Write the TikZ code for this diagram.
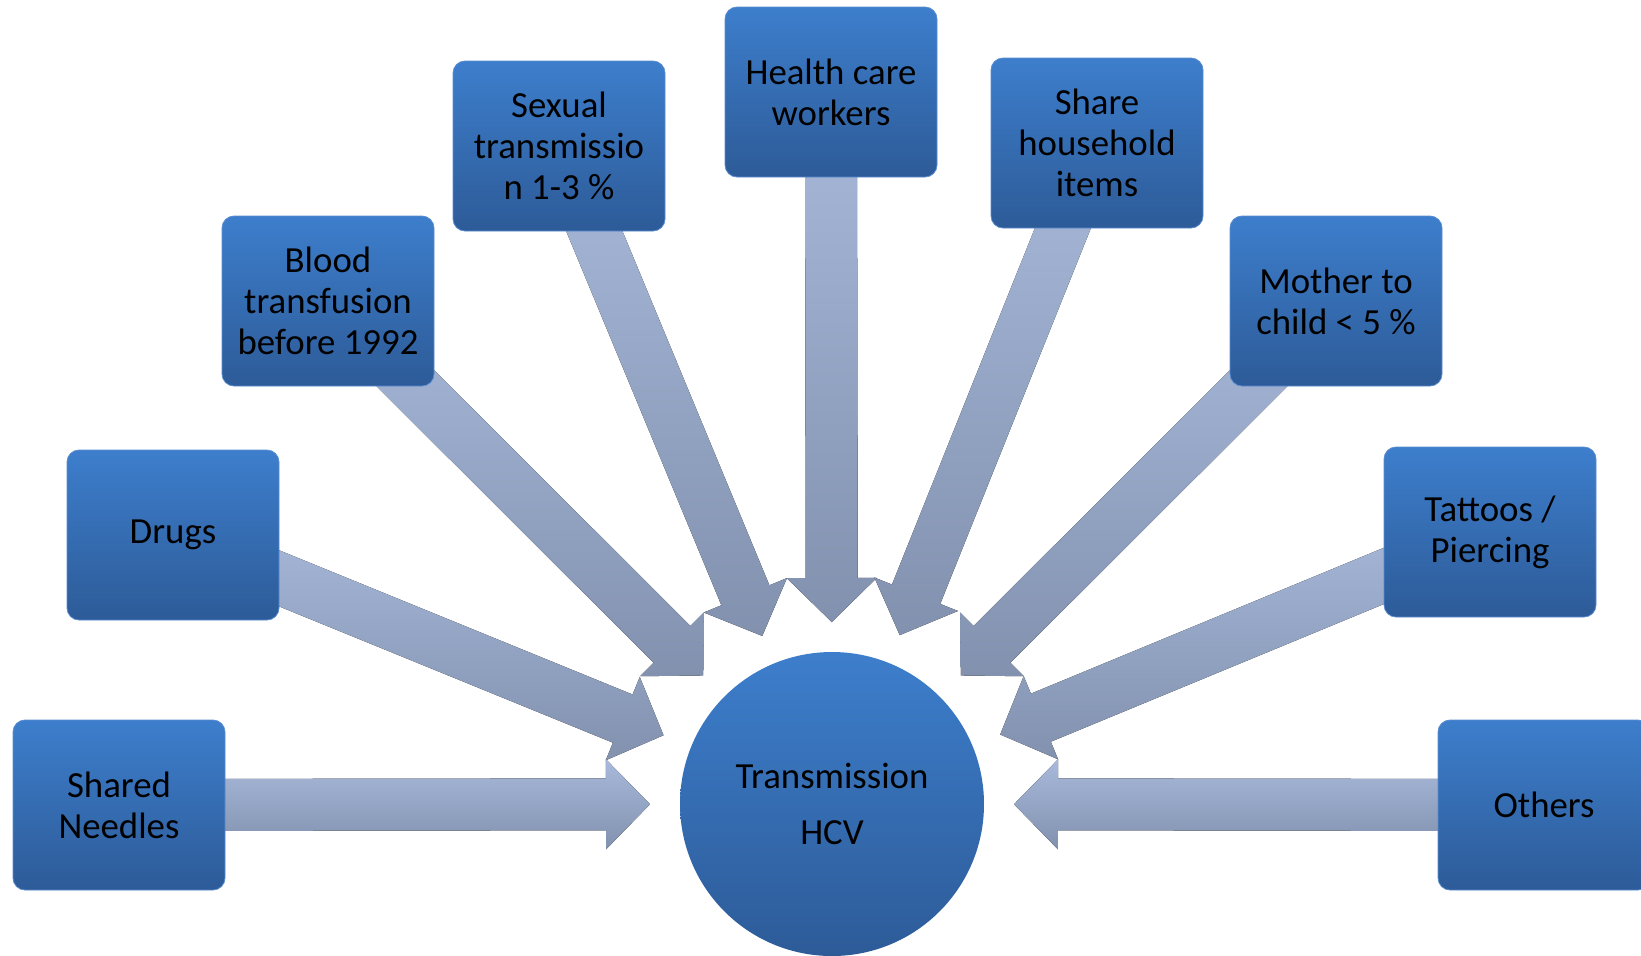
\documentclass[tikz,border=0pt]{standalone}
\usepackage{fontspec}
\setmainfont{Carlito}
\usetikzlibrary{calc,backgrounds}
\definecolor{boxtop}{HTML}{3D7ECC}
\definecolor{boxbot}{HTML}{2D5B98}
\definecolor{boxline}{HTML}{5A8DD0}
\definecolor{arrtop}{HTML}{A8B9DB}
\definecolor{arrbot}{HTML}{8191AE}

\newcommand{\feedarrow}[1]{%
\coordinate (s) at (#1.center);
\coordinate (t) at ($(hcv.center)!91pt!(#1.center)$);
\coordinate (b) at ($(hcv.center)!113pt!(#1.center)$);
\fill[feed] ($(s)!13pt!90:(b)$) -- ($(b)!13pt!-90:(s)$) -- ($(b)!22.5pt!-90:(s)$) -- (t)
  -- ($(b)!22.5pt!90:(s)$) -- ($(b)!13pt!90:(s)$) -- ($(s)!13pt!-90:(b)$) -- cycle;}

\begin{document}
\begin{tikzpicture}[x=0.5pt,y=-0.5pt,
  cause/.style={rounded corners=6pt, draw=boxline, line width=0.4pt, top color=boxtop, bottom color=boxbot,
    minimum width=106pt, minimum height=85pt, inner sep=2pt, align=center, font=\fontsize{18.4}{20.4}\selectfont},
  feed/.style={top color=arrtop, bottom color=arrbot}]
\useasboundingbox (0,0) rectangle (1641,955);
\node[circle, top color=boxtop, bottom color=boxbot, minimum size=152pt, align=center,
  font=\fontsize{18.4}{20.4}\selectfont] (hcv) at (832,804) {Transmission\\[7.6pt]HCV};
\node[cause] (needles) at (119,805) {Shared\\Needles};
\node[cause] (drugs) at (173,535) {Drugs};
\node[cause] (blood) at (328,301) {Blood\\transfusion\\before 1992};
\node[cause] (sexual) at (559,146) {Sexual\\transmissio\\n 1-3 \%};
\node[cause] (health) at (831,92) {Health care\\workers};
\node[cause] (share) at (1097,143) {Share\\household\\items};
\node[cause] (mother) at (1336,301) {Mother to\\child < 5 \%};
\node[cause] (tattoos) at (1490,532) {Tattoos /\\Piercing};
\node[cause] (others) at (1544,805) {Others};
\begin{pgfonlayer}{background}
\feedarrow{needles}
\feedarrow{drugs}
\feedarrow{blood}
\feedarrow{sexual}
\feedarrow{health}
\feedarrow{share}
\feedarrow{mother}
\feedarrow{tattoos}
\feedarrow{others}
\end{pgfonlayer}
\end{tikzpicture}
\end{document}
